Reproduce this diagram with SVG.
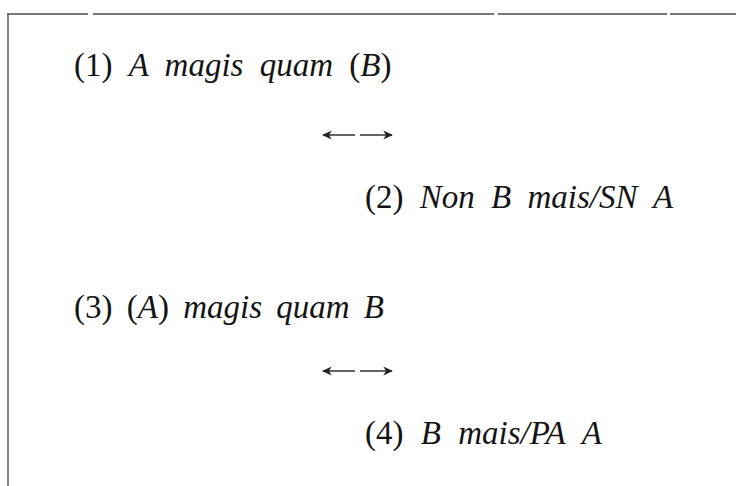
<svg xmlns="http://www.w3.org/2000/svg" width="736" height="486" viewBox="0 0 736 486">
<defs>
<style>
.t{font-family:"Liberation Serif","Times New Roman",serif;font-size:33px;fill:#141414;word-spacing:8px}
.i{font-style:italic}
.frame{stroke:#4a4a4a;fill:none}
.arr{stroke:#222;stroke-width:1.4;fill:none}
</style>
<marker id="ah" viewBox="0 0 10 10" refX="9" refY="5" markerWidth="7" markerHeight="7" orient="auto-start-reverse">
<path d="M0,0.5 L10,5 L0,9.5 L3,5 Z" fill="#222"/>
</marker>
</defs>
<rect width="736" height="486" fill="#fff"/>
<g id="frame">
<path class="frame" stroke-width="1.6" d="M7,14 H88 M93,14 H494 M498,14 H667 M670,14 H736"/>
<line class="frame" x1="8" y1="14" x2="8" y2="486" stroke-width="1.3"/>
</g>
<g id="n1"><text class="t" x="74" y="76">(1) <tspan class="i">A magis quam </tspan>(<tspan class="i">B</tspan>)</text></g>
<g id="n2"><text class="t" x="365" y="208">(2) <tspan class="i">Non B mais/SN A</tspan></text></g>
<g id="n3"><text class="t" x="74" y="318" style="word-spacing:6px">(3) (<tspan class="i">A</tspan>) <tspan class="i">magis quam B</tspan></text></g>
<g id="n4"><text class="t" x="365" y="444" style="word-spacing:9px">(4) <tspan class="i">B mais/PA A</tspan></text></g>
<g id="connectors">
<line class="arr" x1="355" y1="135" x2="323" y2="135" marker-end="url(#ah)"/>
<line class="arr" x1="360" y1="135" x2="392" y2="135" marker-end="url(#ah)"/>
<line class="arr" x1="355" y1="371" x2="323" y2="371" marker-end="url(#ah)"/>
<line class="arr" x1="360" y1="371" x2="392" y2="371" marker-end="url(#ah)"/>
</g>
</svg>
